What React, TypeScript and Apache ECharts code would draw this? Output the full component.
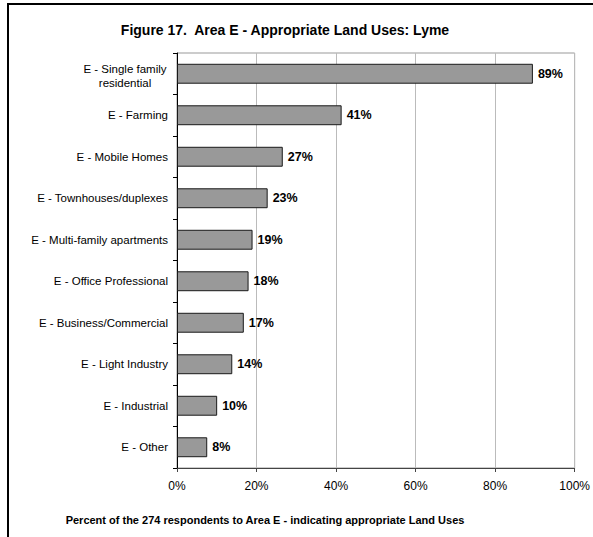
import React, { useEffect, useRef } from "react";
import * as echarts from "echarts";

const categories = [
  "E - Single family\nresidential",
  "E - Farming",
  "E - Mobile Homes",
  "E - Townhouses/duplexes",
  "E - Multi-family apartments",
  "E - Office Professional",
  "E - Business/Commercial",
  "E - Light Industry",
  "E - Industrial",
  "E - Other",
];
const values = [89.5, 41.4, 26.6, 22.8, 19.0, 18.0, 16.8, 13.9, 10.1, 7.6];
const labels = ["89%", "41%", "27%", "23%", "19%", "18%", "17%", "14%", "10%", "8%"];
const xTicks = [0, 20, 40, 60, 80, 100];

const titleText = "Figure 17.  Area E - Appropriate Land Uses: Lyme";
const xName = "Percent of the 274 respondents to Area E - indicating appropriate Land Uses";

const FONT = "'Liberation Sans', Arial, sans-serif";

export default function App() {
  const ref = useRef<HTMLDivElement>(null);
  useEffect(() => {
    if (!ref.current) return;
    const chart = echarts.init(ref.current, null, { renderer: "svg" });
    chart.setOption({
      animation: false,
      backgroundColor: "#ffffff",
      textStyle: { fontFamily: FONT },
      title: {
        text: titleText,
        left: 280,
        top: 18,
        textAlign: "center",
        textStyle: { fontFamily: FONT, fontSize: 14, fontWeight: "bold", color: "#000" },
      },
      grid: {
        left: 177,
        top: 53,
        right: 15,
        bottom: 69,
        show: true,
        borderColor: "#999",
        borderWidth: 1,
      },
      xAxis: {
        type: "value",
        min: 0,
        max: 100,
        interval: 20,
        axisLine: { show: true, lineStyle: { color: "#444", width: 1 } },
        axisTick: { show: true, length: 4, lineStyle: { color: "#444" } },
        splitLine: { show: true, lineStyle: { color: "#bbbbbb", width: 1 } },
        axisLabel: {
          formatter: (v: number) => (xTicks.includes(v) ? v + "%" : ""),
          fontFamily: FONT,
          fontSize: 12,
          color: "#000",
          margin: 12,
        },
      },
      yAxis: {
        type: "category",
        data: categories,
        inverse: true,
        axisLine: { show: true, lineStyle: { color: "#000", width: 1 } },
        axisTick: { show: true, length: 4, inside: false, lineStyle: { color: "#000" } },
        splitLine: { show: false },
        axisLabel: {
          fontFamily: FONT,
          fontSize: 11.5,
          color: "#000",
          margin: 9,
          lineHeight: 14,
          formatter: (v: string) => (v.includes("\n") ? "{c|" + v + "}" : v),
          rich: {
            c: { width: 86, align: "center", fontFamily: FONT, fontSize: 11.5, color: "#000", lineHeight: 14, padding: [4, 0, 0, 0] },
          },
        },
      },
      series: [
        {
          type: "bar",
          data: values,
          barCategoryGap: "52%",
          itemStyle: { color: "#999999", borderColor: "#1a1a1a", borderWidth: 1 },
          label: {
            show: true,
            position: "right",
            distance: 5,
            formatter: (p: any) => labels[p.dataIndex],
            fontFamily: FONT,
            fontSize: 12.5,
            fontWeight: "bold",
            color: "#000",
          },
        },
      ],
      graphic: [
        {
          type: "rect",
          shape: { x: 8, y: 4, width: 620, height: 620 },
          style: { fill: "none", stroke: "#000", lineWidth: 2 },
          silent: true,
        },
        {
          type: "text",
          x: 265,
          y: 520,
          style: {
            text: xName,
            fontFamily: FONT,
            fontSize: 11,
            fontWeight: "bold",
            fill: "#000",
            align: "center",
            verticalAlign: "middle",
          },
        },
      ],
    });
    return () => chart.dispose();
  }, []);
  return (
    <div
      ref={ref}
      style={{ position: "fixed", left: 0, top: 0, width: 593, height: 537 }}
    />
  );
}
